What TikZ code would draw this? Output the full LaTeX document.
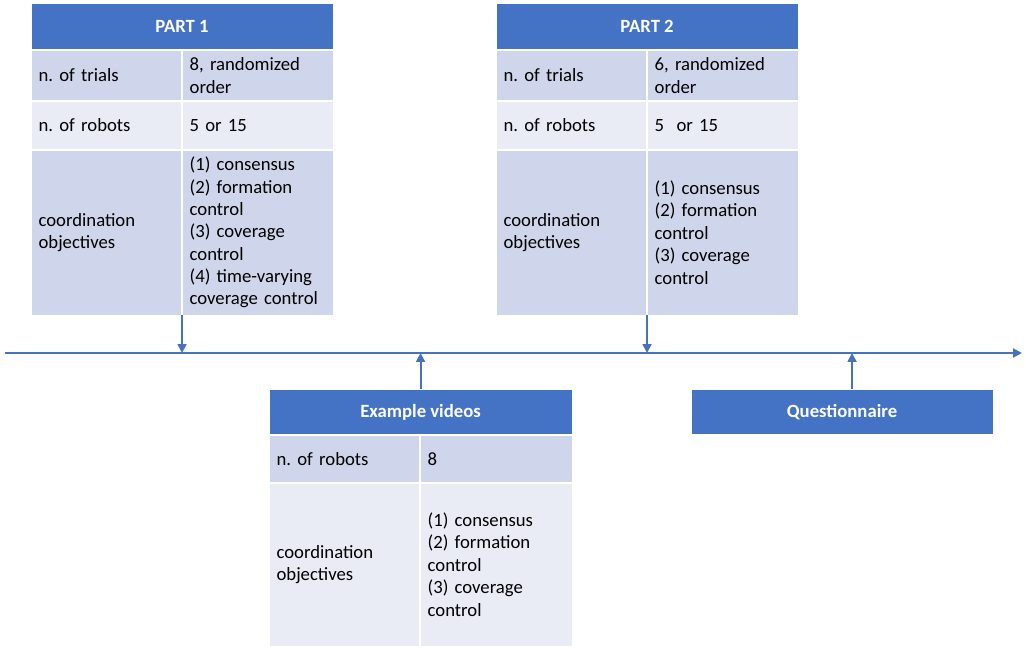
\documentclass[tikz,border=0pt]{standalone}
\usepackage{fontspec}
\setmainfont{Carlito}
\usepackage{xcolor}
\usetikzlibrary{positioning}
\usetikzlibrary{arrows.meta}
\definecolor{hdrblue}{HTML}{4472C4}
\definecolor{rowdark}{HTML}{CFD5EA}
\definecolor{rowlight}{HTML}{E9EBF5}
\frenchspacing

\begin{document}
\begin{tikzpicture}[
x = 0.025cm, y = -0.025cm,
every node/.style = {font = \fontsize{13.3}{15.9}\selectfont, inner xsep = 0.19cm, inner ysep = 0pt, outer sep = 0pt},
  hdr/.style = {fill = hdrblue, draw = white, line width = 0.8pt, text = white,
    font = \fontsize{13.3}{15.9}\selectfont\bfseries, minimum width = 7.55cm, minimum height = 1.175cm, anchor = north west},
  cell/.style = {draw = white, line width = 0.8pt, align = left, text width = 3.395cm, minimum height = #1},
  dark/.style = {cell = #1, fill = rowdark},
  light/.style = {cell = #1, fill = rowlight},
  link/.style = {draw = hdrblue, line width = 1.4pt, -{Triangle[length = 2.2mm, width = 2.2mm]}}
]
\useasboundingbox (0,0) rectangle (1026,648);

% part 1
\node[hdr] (p1) at (31,3) {PART 1};
\node[dark = 1.275cm, below right = 0pt and 0pt of p1.south west] (p1a) {n. of trials};
\node[dark = 1.275cm, right = 0pt of p1a] (p1b) {8, randomized\\order};
\node[light = 1.225cm, below right = 0pt and 0pt of p1a.south west] (p1c) {n. of robots};
\node[light = 1.225cm, right = 0pt of p1c] (p1d) {5 or 15};
\node[dark = 4.125cm, below right = 0pt and 0pt of p1c.south west] (p1e) {coordination\\objectives};
\node[dark = 4.125cm, right = 0pt of p1e] (p1f) {(1) consensus\\(2) formation\\control\\(3) coverage\\control\\(4) time-varying\\coverage control};

% part 2
\node[hdr] (p2) at (496,3) {PART 2};
\node[dark = 1.275cm, below right = 0pt and 0pt of p2.south west] (p2a) {n. of trials};
\node[dark = 1.275cm, right = 0pt of p2a] (p2b) {6, randomized\\order};
\node[light = 1.225cm, below right = 0pt and 0pt of p2a.south west] (p2c) {n. of robots};
\node[light = 1.225cm, right = 0pt of p2c] (p2d) {5\ \ or 15};
\node[dark = 4.125cm, below right = 0pt and 0pt of p2c.south west] (p2e) {coordination\\objectives};
\node[dark = 4.125cm, right = 0pt of p2e] (p2f) {(1) consensus\\(2) formation\\control\\(3) coverage\\control};

% example videos
\node[hdr, minimum width = 7.575cm, minimum height = 1.15cm] (ev) at (269,389) {Example videos};
\node[dark = 1.2cm, below right = 0pt and 0pt of ev.south west] (eva) {n. of robots};
\node[dark = 1.2cm, text width = 3.42cm, right = 0pt of eva] (evb) {8};
\node[light = 4.075cm, below right = 0pt and 0pt of eva.south west] (evc) {coordination\\objectives};
\node[light = 4.075cm, text width = 3.42cm, right = 0pt of evc] (evd) {(1) consensus\\(2) formation\\control\\(3) coverage\\control};

% questionnaire
\node[hdr, minimum height = 1.15cm] (qn) at (691,389) {Questionnaire};

% timeline
\coordinate (t0) at (5,353);
\coordinate (t1) at (1022,353);
\draw[link] (t0) -- (t1);

\draw[link] (p1e.south east) -- (p1e.south east |- t0);
\draw[link] (p2e.south east) -- (p2e.south east |- t0);
\draw[link] (ev.north) -- (ev.north |- t0);
\draw[link] ([xshift = 0.25cm]qn.north) -- ([xshift = 0.25cm]qn.north |- t0);
\end{tikzpicture}
\end{document}
